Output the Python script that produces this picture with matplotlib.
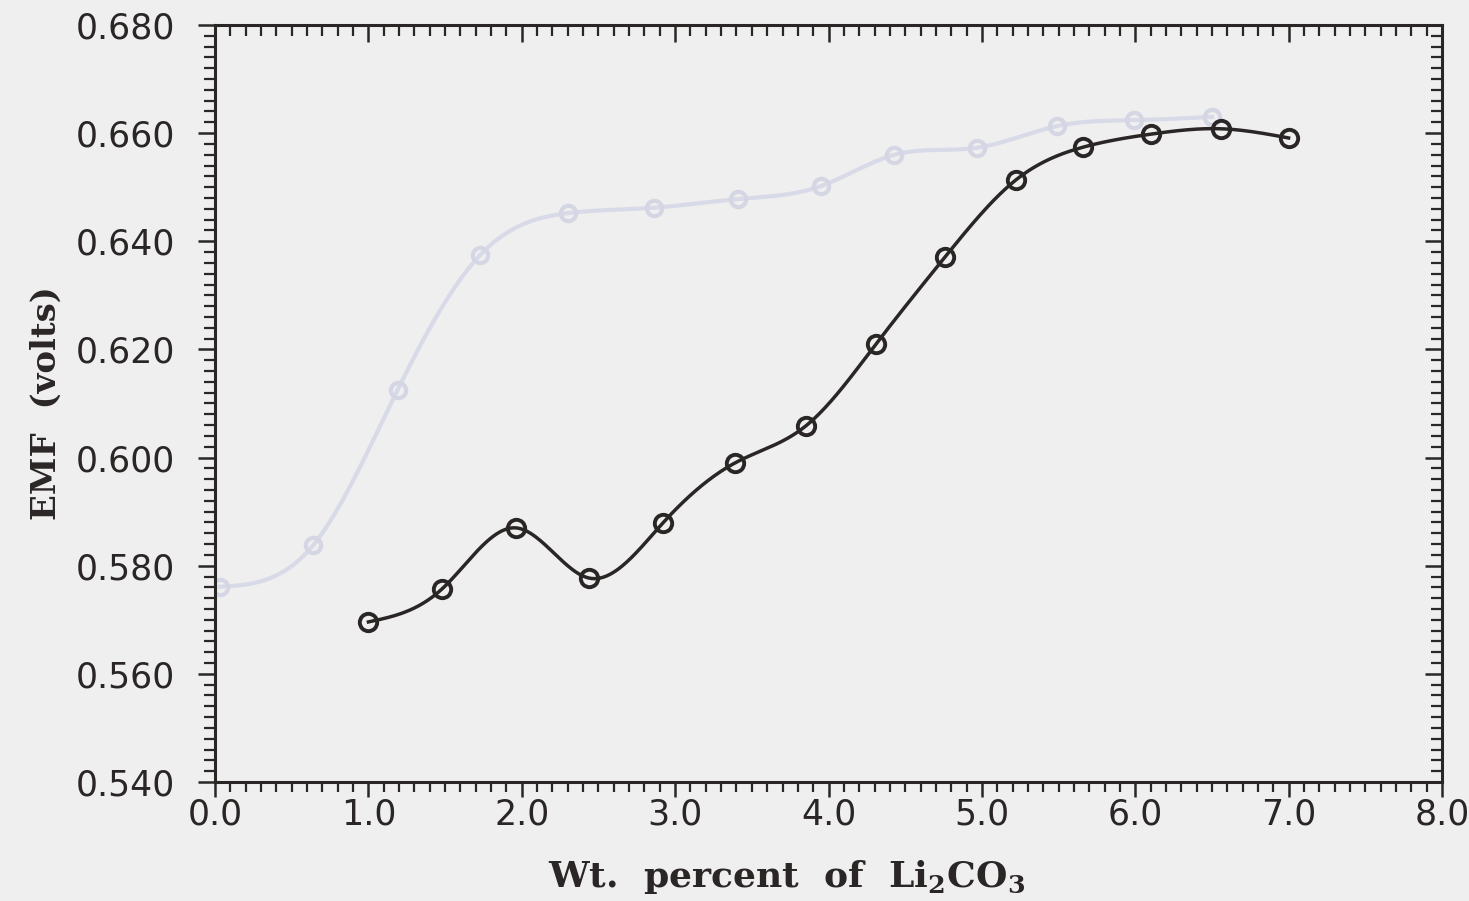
import numpy as np
import matplotlib
matplotlib.use("Agg")
import matplotlib.pyplot as plt

# EMF vs wt. % Li2CO3
wt_pct = [1.00, 1.48, 1.96, 2.44, 2.92, 3.39, 3.85, 4.31, 4.76, 5.22, 5.66, 6.10, 6.56, 7.00]
emf = [0.5696, 0.5757, 0.5870, 0.5777, 0.5879, 0.5990, 0.6058, 0.6210, 0.6371,
       0.6513, 0.6574, 0.6598, 0.6608, 0.6591]

# faint show-through curve from the back of the page
ghost_x = [0.03, 0.64, 1.19, 1.73, 2.30, 2.86, 3.41, 3.95, 4.43, 4.97, 5.49, 5.99, 6.50]
ghost_y = [0.5761, 0.5838, 0.6125, 0.6375, 0.6452, 0.6462, 0.6478, 0.6502, 0.6560,
           0.6573, 0.6613, 0.6624, 0.6630]

x_ticks = [0.0, 1.0, 2.0, 3.0, 4.0, 5.0, 6.0, 7.0, 8.0]
y_ticks = [0.540, 0.560, 0.580, 0.600, 0.620, 0.640, 0.660, 0.680]

INK = "#2b2626"
PAPER = "#efefef"


def spline(x, y, n=600):
    # natural cubic spline, just for drawing the smooth pen line
    x = np.asarray(x, float)
    y = np.asarray(y, float)
    k = len(x)
    h = np.diff(x)
    A = np.zeros((k, k))
    b = np.zeros(k)
    A[0, 0] = A[-1, -1] = 1.0
    for i in range(1, k - 1):
        A[i, i - 1] = h[i - 1]
        A[i, i] = 2 * (h[i - 1] + h[i])
        A[i, i + 1] = h[i]
        b[i] = 6 * ((y[i + 1] - y[i]) / h[i] - (y[i] - y[i - 1]) / h[i - 1])
    M = np.linalg.solve(A, b)
    xs = np.linspace(x[0], x[-1], n)
    idx = np.clip(np.searchsorted(x, xs) - 1, 0, k - 2)
    x0, x1 = x[idx], x[idx + 1]
    hh = x1 - x0
    t0, t1 = x1 - xs, xs - x0
    ys = (M[idx] * t0 ** 3 + M[idx + 1] * t1 ** 3) / (6 * hh) \
        + (y[idx] / hh - M[idx] * hh / 6) * t0 \
        + (y[idx + 1] / hh - M[idx + 1] * hh / 6) * t1
    return xs, ys


fig = plt.figure(figsize=(14.69, 9.01), dpi=100, facecolor=PAPER)
ax = fig.add_axes([0.1464, 0.1321, 0.8352, 0.8402])
ax.set_facecolor(PAPER)

# ghost curve
gx, gy = spline(ghost_x, ghost_y)
ax.plot(gx, gy, color="#d9dae8", lw=3, zorder=1)
ax.plot(ghost_x, ghost_y, "o", ms=11, mfc="none", mec="#d5d6e4", mew=3, zorder=1)

# main curve
sx, sy = spline(wt_pct, emf)
ax.plot(sx, sy, color=INK, lw=2.5, zorder=3)
ax.plot(wt_pct, emf, "o", ms=12.5, mfc="none", mec=INK, mew=2.8, zorder=4)

ax.set_xlim(0, 8)
ax.set_ylim(0.54, 0.68)

for s in ax.spines.values():
    s.set_linewidth(2.2)
    s.set_color(INK)

ax.set_xticks(x_ticks)
ax.set_xticklabels([f"{v:.1f}" for v in x_ticks])
ax.set_xticks(np.arange(0, 8.001, 0.1), minor=True)
ax.set_yticks(y_ticks)
ax.set_yticklabels([f"{v:.3f}" for v in y_ticks])
ax.set_yticks(np.arange(0.54, 0.6801, 0.002), minor=True)

for lab in ax.get_xticklabels() + ax.get_yticklabels():
    lab.set_fontfamily("DejaVu Sans")
    lab.set_fontsize(25)
    lab.set_color(INK)

ax.tick_params(which="major", direction="out", length=11, width=1.8, color=INK)
ax.tick_params(which="minor", direction="out", length=7, width=1.6, color=INK)
ax.tick_params(axis="x", which="major", pad=0)
ax.tick_params(axis="y", which="major", length=12, pad=17)
ax.tick_params(axis="y", which="minor", length=8)

# top and right ticks point the same way as the plotter drew them (down / left)
top = ax.secondary_xaxis("top")
top.set_xticks(x_ticks)
top.set_xticks(np.arange(0, 8.001, 0.1), minor=True)
top.tick_params(which="major", direction="in", length=12, width=1.8, color=INK, labeltop=False)
top.tick_params(which="minor", direction="in", length=8, width=1.6, color=INK)
top.spines["top"].set_visible(False)

right = ax.secondary_yaxis("right")
right.set_yticks(y_ticks)
right.set_yticks(np.arange(0.54, 0.6801, 0.002), minor=True)
right.tick_params(which="major", direction="in", length=12, width=1.8, color=INK, labelright=False)
right.tick_params(which="minor", direction="in", length=8, width=1.6, color=INK)
right.spines["right"].set_visible(False)

ax.set_xlabel("Wt.  percent  of  Li$_\\mathregular{2}$CO$_\\mathregular{3}$",
              family="DejaVu Serif", weight="bold", size=26, color=INK)
ax.set_ylabel("EMF  (volts)", family="DejaVu Serif", weight="bold", size=24.5, color=INK)
ax.xaxis.set_label_coords(0.466, -0.100)
ax.yaxis.set_label_coords(-0.124, 0.5)

fig.savefig("out.png", dpi=100, facecolor=PAPER)
